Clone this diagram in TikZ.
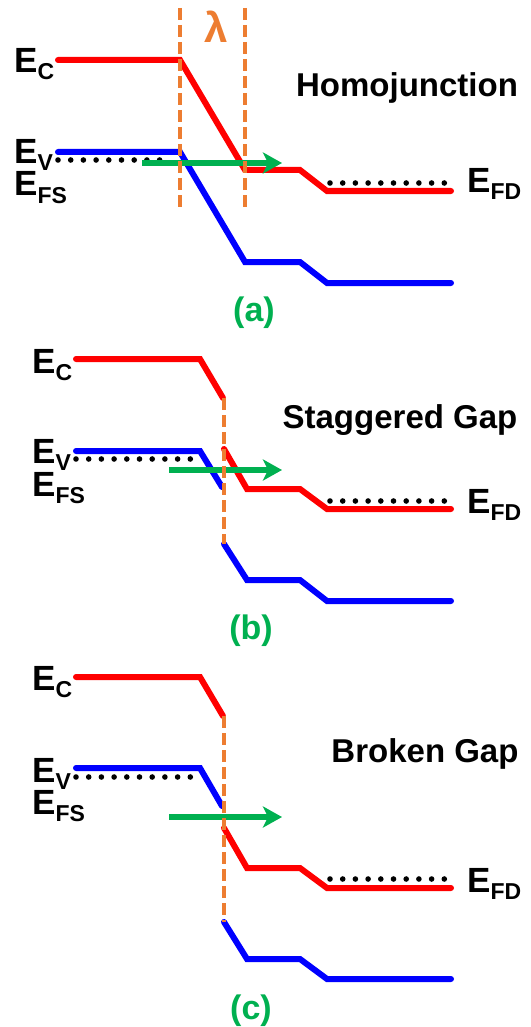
\documentclass[tikz,border=0pt]{standalone}
\usepackage{fontspec}
\setmainfont{Liberation Sans}
\usetikzlibrary{arrows.meta}
\definecolor{bred}{HTML}{FF0000}
\definecolor{bblue}{HTML}{0000FF}
\definecolor{bgreen}{HTML}{00B050}
\definecolor{borange}{HTML}{ED7D31}
\newcommand{\Elab}[1]{{\fontsize{35}{35}\selectfont E}\raisebox{-7pt}{\fontsize{23}{23}\selectfont #1}}
\begin{document}
\begin{tikzpicture}[x=1pt,y=-1pt,
  band/.style={line width=6pt, line cap=round, line join=miter},
  cb/.style={band, draw=bred},
  vb/.style={band, draw=bblue},
  fermi/.style={line width=5.6pt, line cap=round, dash pattern=on 0pt off 12.7pt},
  flow/.style={line width=6pt, draw=bgreen, -{Stealth[length=19pt,width=21pt,inset=5pt]}},
  junc/.style={draw=borange, line width=3.6pt, dash pattern=on 12pt off 5pt},
  lab/.style={inner sep=0pt, font=\bfseries},
  title/.style={inner sep=0pt, font=\bfseries\fontsize{33}{33}\selectfont},
  tag/.style={inner sep=0pt, text=bgreen, font=\bfseries\fontsize{34}{34}\selectfont}]
\useasboundingbox (0,0) rectangle (530,1027);

% ---------- (a) Homojunction ----------
\draw[cb] (58,60) -- (180,60) -- (245,170) -- (300,170) -- (327,191) -- (451,191);
\draw[vb] (58,152) -- (180,152) -- (245,262) -- (300,262) -- (327,283) -- (451,283);
\draw[fermi] (58,160) -- (172,160);
\draw[fermi] (330,183) -- (447,183);
\draw[flow] (142,163) -- (282,163);
\draw[junc] (180,8) -- (180,207);
\draw[junc] (245,8) -- (245,207);
\node[lab, anchor=base west] (eca) at (14,73) {\Elab{C}};
\node[lab, anchor=base west] (eva) at (14,164) {\Elab{V}};
\node[lab, anchor=base west] (efsa) at (14,196) {\Elab{FS}};
\node[lab, anchor=base west] (efda) at (467,193) {\Elab{FD}};
\node[title, anchor=base] (ta) at (407,97) {Homojunction};
\node[inner sep=0pt, text=borange, font=\bfseries\fontsize{42}{42}\selectfont, anchor=base] (lam) at (216,43) {λ};
\node[tag, anchor=base] (la) at (254,321) {(a)};

% ---------- (b) Staggered Gap ----------
\draw[cb] (76,359) -- (200,359) -- (223,398);
\draw[cb] (224,449) -- (247,489) -- (300,489) -- (327,509) -- (451,509);
\draw[vb] (76,451) -- (200,451) -- (222,487);
\draw[vb] (224,544) -- (247,580) -- (300,580) -- (327,601) -- (451,601);
\draw[fermi] (76,459) -- (193,459);
\draw[fermi] (330,501) -- (447,501);
\draw[flow] (169,470) -- (282,470);
\draw[junc] (224,398) -- (224,544);
\node[lab, anchor=base west] (ecb) at (32,373) {\Elab{C}};
\node[lab, anchor=base west] (evb) at (32,463) {\Elab{V}};
\node[lab, anchor=base west] (efsb) at (32,496) {\Elab{FS}};
\node[lab, anchor=base west] (efdb) at (467,513) {\Elab{FD}};
\node[title, anchor=base] (tb) at (400,428) {Staggered Gap};
\node[tag, anchor=base] (lb) at (251,639) {(b)};

% ---------- (c) Broken Gap ----------
\draw[cb] (76,677) -- (200,677) -- (223,716);
\draw[cb] (224,828) -- (247,868) -- (300,868) -- (327,888) -- (451,888);
\draw[vb] (76,768) -- (200,768) -- (222,806);
\draw[vb] (224,922) -- (247,959) -- (300,959) -- (327,979) -- (451,979);
\draw[fermi] (76,777) -- (193,777);
\draw[fermi] (330,879) -- (447,879);
\draw[flow] (169,817) -- (282,817);
\draw[junc] (224,716) -- (224,922);
\node[lab, anchor=base west] (ecc) at (32,690) {\Elab{C}};
\node[lab, anchor=base west] (evc) at (32,782) {\Elab{V}};
\node[lab, anchor=base west] (efsc) at (32,814) {\Elab{FS}};
\node[lab, anchor=base west] (efdc) at (467,892) {\Elab{FD}};
\node[title, anchor=base] (tc) at (425,762) {Broken Gap};
\node[tag, anchor=base] (lc) at (251,1019) {(c)};
\end{tikzpicture}
\end{document}
